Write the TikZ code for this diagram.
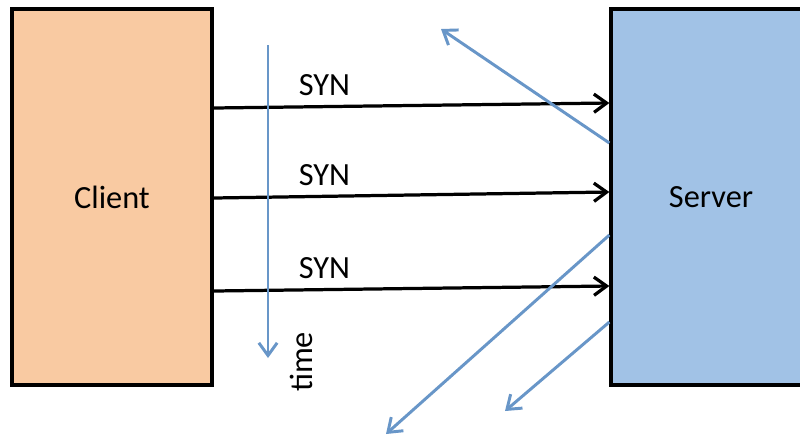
\documentclass[tikz,border=0pt]{standalone}
\usepackage{fontspec}
\setmainfont{Carlito}
\usetikzlibrary{arrows.meta, positioning, calc}
\definecolor{clientorange}{RGB}{249, 202, 162}
\definecolor{serverblue}{RGB}{161, 194, 230}
\definecolor{flowblue}{RGB}{104, 150, 200}

\tikzset{
    hostbox/.style={draw=black, line width=2.3pt, minimum width=5cm, minimum height=9.4cm,
        font=\fontsize{23}{27}\selectfont},
    synmsg/.style={draw=black, line width=2.3pt, -{Straight Barb[length=9pt, width=13pt, line width=2.3pt]}},
    reply/.style={draw=flowblue, line width=2.1pt, -{Straight Barb[length=9pt, width=13pt, line width=2.1pt]}},
    lbl/.style={font=\fontsize{23}{27}\selectfont}
}

\begin{document}
\begin{tikzpicture}[x=0.025cm, y=-0.025cm]
    \useasboundingbox (0,0) rectangle (800,437);
    \clip (0,0) rectangle (800,437);
    \fill[white] (0,0) rectangle (800,437);

    % the two end hosts
    \node[hostbox, fill=clientorange] (client) at (112,197) {Client};
    \node[hostbox, fill=serverblue] (server) at (711,197) {Server};

    % SYN segments sent by the client
    \draw[synmsg] (client.east |- 0,108) -- (server.west |- 0,103)
        node[lbl, pos=0.28, above=3pt] (syn1) {SYN};
    \draw[synmsg] (client.east |- 0,198) -- (server.west |- 0,192)
        node[lbl, pos=0.28, above=3pt] (syn2) {SYN};
    \draw[synmsg] (client.east |- 0,291) -- (server.west |- 0,286)
        node[lbl, pos=0.28, above=3pt] (syn3) {SYN};

    % time axis
    \coordinate (t0) at (268,45);
    \coordinate (t1) at (268,358);
    \draw[reply] (t0) -- (t1);
    \node[lbl, rotate=90] (timelbl) at (301,362) {time};

    % replies leaving the server
    \coordinate (r1) at (441,29);
    \coordinate (r2) at (386,434);
    \coordinate (r3) at (505,411);
    \draw[reply] (server.west |- 0,143) -- (r1);
    \draw[reply] (server.west |- 0,235) -- (r2);
    \draw[reply] (server.west |- 0,322) -- (r3);
\end{tikzpicture}
\end{document}
